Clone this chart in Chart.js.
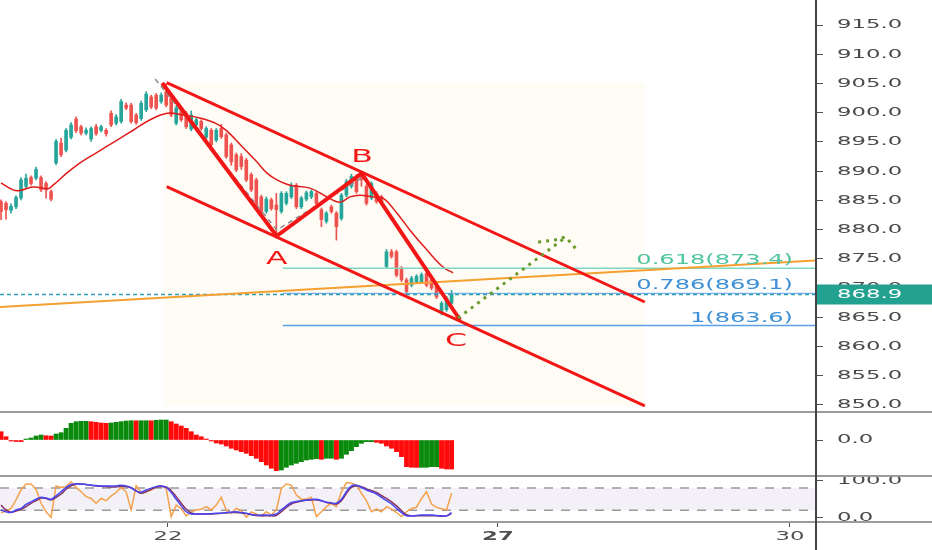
<!DOCTYPE html>
<html>
<head>
<meta charset="utf-8">
<script src="https://cdn.jsdelivr.net/npm/chart.js@4/dist/chart.umd.min.js"></script>
<style>
  html, body { margin: 0; padding: 0; background: #fff; }
  #wrap { position: relative; width: 932px; height: 550px; overflow: hidden; }
  canvas { position: absolute; left: 0; }
</style>
</head>
<body>
<div id="wrap">
  <canvas id="priceChart" width="932" height="413" style="top:0px"></canvas>
  <canvas id="macdChart" width="932" height="64" style="top:413px"></canvas>
  <canvas id="stochChart" width="932" height="73" style="top:477px"></canvas>
</div>
<script>
// ---- data ----
const opens  = [884.8,884.5,883.3,883.9,885.4,887.4,888.9,888.8,888.9,887.9, 886.5,891.4,894.8,893.6,895.8,898.9,897.6,896.5,895.5,897.6, 897.0,897.0,899.9,898.2,898.5,901.3,901.3,899.6,899.0,900.5, 902.7,903.0,901.9,903.6,902.5,898.2,900.2,899.9,897.2,897.9, 898.5,895.8,897.0,895.3,897.3,896.2,894.5,892.8,892.5,891.9, 889.4,888.5,885.6,883.1,885.1,884.2,883.1,884.5,885.6,887.6, 883.9,885.2,885.6,886.2,883.4,881.4,883.9,882.8,881.9,885.9, 887.4,889.1,889.4,887.4,885.4,886.2,885.6,873.7,876.2,876.2, 873.4,871.4,870.5,871.1,871.1,872.5,871.4,870.3,865.7,866.3, 867.4];
const highs  = [885.1,884.8,884.4,885.8,888.9,889.5,889.2,890.7,889.2,888.2, 886.8,895.4,895.6,897.3,898.3,899.3,897.9,897.4,897.6,898.0, 897.9,897.3,900.3,899.7,902.3,901.7,901.6,899.9,902.0,903.6, 903.0,903.3,903.4,905.0,902.8,901.2,900.5,900.2,900.3,899.1, 898.8,897.6,897.3,897.3,898.0,896.5,894.8,893.1,893.0,892.2, 889.7,888.8,885.9,885.6,885.4,886.2,886.5,886.5,888.0,887.9, 885.7,886.6,886.8,886.5,883.7,883.1,884.2,883.1,886.2,888.6, 889.5,889.4,889.7,887.7,888.2,886.5,885.9,876.6,876.6,876.5, 873.7,871.7,872.0,872.3,872.6,872.8,871.7,870.6,867.7,868.6, 869.6];
const lows   = [881.7,881.8,882.8,883.6,885.1,887.0,887.6,888.5,886.5,885.4, 884.9,891.1,892.5,893.3,895.5,896.6,896.2,896.2,895.1,896.1, 896.7,896.0,897.6,897.9,898.2,900.5,898.2,898.0,898.7,900.2, 900.7,900.5,901.6,901.0,899.3,897.9,898.5,897.3,896.9,897.6, 897.0,895.5,894.2,895.0,895.6,892.2,891.0,889.9,890.3,888.2, 886.5,883.6,882.8,882.8,883.3,878.8,882.8,884.2,885.3,883.6, 883.6,884.9,885.3,884.2,880.5,881.1,882.8,878.2,881.6,885.6, 887.1,886.2,887.4,884.2,885.1,884.5,884.5,873.4,875.1,871.9, 871.1,869.1,870.2,870.8,870.8,870.2,869.7,868.2,865.4,866.0, 867.2];
const closes = [883.1,883.4,884.0,885.5,888.5,888.8,887.9,890.3,886.8,886.8, 885.2,895.1,892.8,897.0,897.9,896.9,896.5,897.0,897.3,896.4, 897.6,896.4,897.9,899.3,901.9,900.8,898.5,898.3,901.6,903.2, 901.0,900.8,903.0,901.3,899.6,900.8,898.8,897.6,899.6,898.8, 897.3,897.3,894.5,897.0,895.9,892.5,891.6,890.2,890.8,888.5, 886.8,883.9,883.1,885.2,883.6,883.4,886.2,886.2,887.6,883.9, 885.4,886.3,886.5,884.5,881.7,882.8,883.1,880.5,885.9,888.2, 889.1,886.5,888.5,884.5,887.9,884.8,884.8,876.2,875.4,872.2, 871.4,869.4,871.7,872.0,872.3,870.5,870.0,868.5,867.4,868.3, 868.9];

const maX = [0,2.4,3.8,6.4,9.4,10.4,13.2,15.8,18.4,23.2,26.4,29.8,33.2,36.3,39.7,43.1,45.1,48.3,51.1,53.1,55.1,57.7,61.7,65.1,67.7,69.7,71.7,74.3,76.3,79.1,81.7,85.1,88.3,90.3];
const maY = [888.0,886.8,886.7,887.3,887.0,887.6,889.7,891.4,892.8,895.3,897.0,898.8,899.9,899.6,899.1,898.1,896.9,894.1,891.6,889.7,888.5,887.6,887.1,885.6,884.7,885.6,885.9,885.6,885.4,882.8,879.9,876.5,873.6,872.6];

const macdHist = [8.3,3.3,-1,-1.5,-1.6,1,2,4,5,4.3, 4,6,7.3,11.7,16.7,18.3,18.7,18.7,18.3,17.7, 17,16.7,17,17.7,18.3,19,19.3,19.2,19.3,19.3, 19.2,19.7,20,20,18.3,16,14,11.7,8.3,5, 3.3,1,-1,-3,-4,-6,-8.3,-10,-11.7,-13.3, -15.7,-18.3,-21.7,-25,-28.3,-30.7,-30,-27.3,-25,-23.3, -21.7,-20,-19.3,-18.7,-19.3,-18.3,-18.3,-19.3,-18.3,-14.3, -10.7,-6.7,-3.3,-1.7,-1.7,-2.3,-3.3,-6,-8.3,-11.7, -16.7,-26.7,-27.3,-27.4,-27.3,-27.3,-26.7,-26.7,-28.3,-29, -29.1];

const stochFast = [13.5,18,25,48,75,91,91,77,39,16, 1,86,82,84,97,82,70,57,52,39, 52,46,59,68,82,70,21,86,68,70, 75,82,86,79,3,34,25,5,16,21, 23,30,21,34,55,21,12,25,19,1, 16,10,5,16,7,21,79,91,88,61, 50,50,55,3,16,30,39,30,70,95, 93,88,66,46,16,23,16,30,23,14, 3,16,25,28,52,70,37,28,24,21, 66];
const stochK = [21,16,14,21,25,36,43,50,55,53, 50,59,70,82,90,91,91,90,88,87, 86,86,86,86,88,86,81,72,69,75, 80,84,86,82,68,50,32,16,10,10, 10,10,11,12,12,14,15,16,14,12, 9,7,7,7,7,10,21,32,41,44, 46,48,49,50,46,42,40,39,50,70, 86,88,82,75,70,64,55,46,37,25, 14,5,5,6,7,7,7,6,5,5, 14];
const stochD = [34,21,15,18,23,30,39,46,53,52, 48,55,64,77,86,91,91,90,88,86, 85,84,83,83,85,84,81,73,66,70, 77,82,84,83,73,57,39,23,13,10, 10,10,10,11,12,13,14,14,13,11, 8,6,5,5,5,6,16,28,37,42, 45,47,48,48,46,41,39,37,46,66, 82,86,84,78,73,68,60,52,43,32, 19,8,5,5,5,5,5,5,4,5, 11];

const priceTicks = [850,855,860,865,870,875,880,885,890,895,900,905,910,915];
const dateTicks = [33.35, 99.26, 157.6];
const dateLabels = ['22', '27', '30'];
const lastPrice = 868.9;

const fibRatios = ['0.618', '0.786', '1'];
const fibPrices = [873.4, 869.1, 863.6];
const fibStart = 56.3;

const upperChannel = [[33.1, 905.13], [128.6, 867.62]];
const lowerChannel = [[33.1, 887.34], [128.6, 849.83]];
const wavePoints = [[32.2, 905.08], [55.06, 878.91], [72.04, 889.63], [91.7, 864.54]];
const waveNames = ['A', 'B', 'C'];
const waveLabelPos = [[55.1, 874.94], [72.1, 892.42], [90.9, 860.95]];
const zigzag = [[30.8, 905.76], [55.1, 879.94], [72.7, 889.18]];
const trendLine = [[-0.2, 866.76], [162.6, 874.72]];
const projMain = [[91.3, 864.88], [112.6, 878.57]];
const projTop = [[107.3, 877.88], [110.6, 878.22], [112.8, 878.74], [115.2, 876.34]];
const zone = { x0: 32.4, x1: 128.6, y0: 849.8, y1: 905.1 };

// ---- look ----
const X_MIN = -0.2, X_MAX = 162.6;
const UP = '#26a69a', DOWN = '#ef5350';
const RED = '#f21616';
Chart.defaults.font.family = 'DejaVu Sans';
Chart.defaults.animation = false;

const pts = arr => arr.map(p => ({ x: p[0], y: p[1] }));

function seg(data, color, width, opts) {
  return Object.assign({
    type: 'line', data: data, borderColor: color, borderWidth: width,
    pointRadius: 0, fill: false, tension: 0
  }, opts || {});
}

function drawText(ctx, txt, x, y, font, color, align, sx) {
  ctx.save();
  ctx.font = font;
  ctx.fillStyle = color;
  ctx.textBaseline = 'middle';
  ctx.textAlign = align || 'left';
  ctx.translate(x, y);
  ctx.scale(sx || 1.75, 1);
  ctx.fillText(txt, 0, 0);
  ctx.restore();
}

function frame(chart, sepY) {
  const ctx = chart.ctx, a = chart.chartArea;
  ctx.save();
  ctx.lineWidth = 2;
  ctx.strokeStyle = '#9c9c9c';
  ctx.beginPath(); ctx.moveTo(0, sepY); ctx.lineTo(chart.width, sepY); ctx.stroke();
  ctx.strokeStyle = '#444';
  ctx.beginPath(); ctx.moveTo(a.right + 1, 0); ctx.lineTo(a.right + 1, chart.height); ctx.stroke();
  ctx.restore();
}

function yLabels(chart) {
  const s = chart.scales.y;
  s.ticks.forEach(t => {
    drawText(chart.ctx, t.value.toFixed(1), chart.chartArea.right + 22, s.getPixelForValue(t.value),
      '13px "DejaVu Sans"', '#4a4a4a', 'left', 1.75);
  });
}

function yAxis(min, max, ticks) {
  return {
    position: 'right', min: min, max: max,
    afterFit(s) { s.width = 117; s.paddingTop = 0; s.paddingBottom = 0; },
    afterBuildTicks(s) { s.ticks = ticks.map(v => ({ value: v })); },
    grid: { drawOnChartArea: false, drawTicks: true, tickLength: 8, color: '#555' },
    border: { display: false },
    ticks: { display: false }
  };
}

const hiddenX = { type: 'linear', min: X_MIN, max: X_MAX, display: false, offset: false };

// ---- price panel ----
const idx = opens.map((_, i) => i);
const candleColors = idx.map(i => closes[i] >= opens[i] ? UP : DOWN);

const pricePlugin = {
  id: 'pricePlugin',
  beforeDatasetsDraw(chart) {
    const { ctx, scales: { x, y } } = chart;
    ctx.save();
    ctx.fillStyle = 'rgba(255, 236, 185, 0.14)';
    const l = x.getPixelForValue(zone.x0), r = x.getPixelForValue(zone.x1);
    const t = y.getPixelForValue(zone.y1), b = y.getPixelForValue(zone.y0);
    ctx.fillRect(l, t, r - l, b - t);
    ctx.restore();
  },
  afterDraw(chart) {
    const { ctx, scales: { x, y } } = chart;
    waveNames.forEach((n, i) => {
      drawText(ctx, n, x.getPixelForValue(waveLabelPos[i][0]), y.getPixelForValue(waveLabelPos[i][1]),
        '18px "DejaVu Sans"', RED, 'center', 1.75);
    });
    const fibColors = ['#4fc4a0', '#3d8fd6', '#3d8fd6'];
    fibRatios.forEach((r, i) => {
      drawText(ctx, r + '(' + fibPrices[i].toFixed(1) + ')', 793, y.getPixelForValue(fibPrices[i]) - 7.5,
        '14px "DejaVu Sans"', fibColors[i], 'right', 1.72);
    });
    yLabels(chart);
    // last price badge
    const by = y.getPixelForValue(lastPrice);
    ctx.save();
    ctx.fillStyle = '#23a190';
    ctx.fillRect(chart.chartArea.right + 1, by - 10, chart.width - chart.chartArea.right, 20);
    ctx.restore();
    drawText(ctx, lastPrice.toFixed(1), chart.chartArea.right + 22, by, '13px "DejaVu Sans"', '#fff', 'left', 1.75);
    frame(chart, 412);
  }
};

new Chart(document.getElementById('priceChart'), {
  type: 'bar',
  data: {
    datasets: [
      seg(pts(projMain), '#6b9a2e', 3, { borderDash: [3, 5], order: 1 }),
      seg(pts(projTop), '#6b9a2e', 3, { borderDash: [3, 5], order: 1 }),
      seg(pts(wavePoints), RED, 4, { order: 2, borderJoinStyle: 'miter' }),
      seg(pts(upperChannel), RED, 3, { order: 3 }),
      seg(pts(lowerChannel), RED, 3, { order: 3 }),
      seg(pts(zigzag), '#8a8a8a', 1.5, { borderDash: [5, 4], order: 4 }),
      seg(pts(trendLine), '#f5a030', 2, { order: 5 }),
      seg([{ x: X_MIN, y: lastPrice }, { x: X_MAX, y: lastPrice }], '#2b9db5', 1.5, { borderDash: [4, 3], order: 6 }),
      ...fibPrices.map((p, i) => seg([{ x: fibStart, y: p }, { x: X_MAX, y: p }],
        i === 0 ? '#7fd6c2' : '#5b9ee8', i === 1 ? 1 : 1.5, { order: 7 })),
      seg(maX.map((v, i) => ({ x: v, y: maY[i] })), '#e01b1b', 1.5, { order: 8, tension: 0.4 }),
      {
        type: 'bar', order: 20, grouped: false, barThickness: 3, minBarLength: 1,
        data: idx.map(i => ({ x: i, y: [opens[i], closes[i]] })),
        backgroundColor: candleColors
      },
      {
        type: 'bar', order: 21, grouped: false, barThickness: 1,
        data: idx.map(i => ({ x: i, y: [lows[i], highs[i]] })),
        backgroundColor: candleColors
      }
    ]
  },
  options: {
    responsive: false, devicePixelRatio: 1, animation: false,
    layout: { padding: 0 },
    plugins: { legend: { display: false }, tooltip: { enabled: false } },
    scales: { x: hiddenX, y: yAxis(848.63, 919.28, priceTicks) }
  },
  plugins: [pricePlugin]
});

// ---- MACD histogram ----
const macdColors = macdHist.map((v, i) => i > 0 && v >= macdHist[i - 1] ? '#098a0c' : '#ff0a0a');

new Chart(document.getElementById('macdChart'), {
  type: 'bar',
  data: {
    datasets: [{
      data: macdHist.map((v, i) => ({ x: i, y: v })),
      backgroundColor: macdColors, barThickness: 4.2, grouped: false
    }]
  },
  options: {
    responsive: false, devicePixelRatio: 1, animation: false,
    layout: { padding: 0 },
    plugins: { legend: { display: false }, tooltip: { enabled: false } },
    scales: { x: hiddenX, y: yAxis(-37, 27, [0]) }
  },
  plugins: [{
    id: 'macdPlugin',
    afterDraw(chart) { yLabels(chart); frame(chart, 63); }
  }]
});

// ---- Stochastic ----
new Chart(document.getElementById('stochChart'), {
  type: 'line',
  data: {
    datasets: [
      seg(stochK.map((v, i) => ({ x: i, y: v })), '#4646f5', 1.5, { tension: 0.4, order: 1 }),
      seg(stochD.map((v, i) => ({ x: i, y: v })), '#85325f', 1.5, { tension: 0.4, order: 2 }),
      seg(stochFast.map((v, i) => ({ x: i, y: v })), '#f5a04a', 1.5, { order: 3 })
    ]
  },
  options: {
    responsive: false, devicePixelRatio: 1, animation: false,
    layout: { padding: 0 },
    plugins: { legend: { display: false }, tooltip: { enabled: false } },
    scales: {
      x: {
        type: 'linear', min: X_MIN, max: X_MAX, position: 'bottom', offset: false,
        afterFit(s) { s.height = 28; s.paddingLeft = 0; s.paddingRight = 0; },
        afterBuildTicks(s) { s.ticks = dateTicks.map(v => ({ value: v })); },
        grid: { drawOnChartArea: false, drawTicks: true, tickLength: 5, color: '#555' },
        border: { display: false },
        ticks: { display: false }
      },
      y: yAxis(-11.6, 110, [0, 100])
    }
  },
  plugins: [{
    id: 'stochPlugin',
    beforeDatasetsDraw(chart) {
      const { ctx, chartArea: a, scales: { y } } = chart;
      ctx.save();
      ctx.fillStyle = '#f4f0f8';
      ctx.fillRect(a.left, y.getPixelForValue(80), a.right - a.left, y.getPixelForValue(20) - y.getPixelForValue(80));
      ctx.strokeStyle = '#9a9a9a';
      ctx.lineWidth = 1.5;
      ctx.setLineDash([9, 8]);
      [80, 20].forEach(v => {
        const py = y.getPixelForValue(v);
        ctx.beginPath(); ctx.moveTo(a.left, py); ctx.lineTo(a.right, py); ctx.stroke();
      });
      ctx.restore();
    },
    afterDraw(chart) {
      const { ctx, chartArea: a, scales: { x } } = chart;
      yLabels(chart);
      dateLabels.forEach((d, i) => {
        drawText(ctx, d, x.getPixelForValue(dateTicks[i]), a.bottom + 15,
          (d === '27' ? 'bold ' : '') + '13px "DejaVu Sans"', '#505050', 'center', 1.75);
      });
      frame(chart, a.bottom);
    }
  }]
});
</script>
</body>
</html>
